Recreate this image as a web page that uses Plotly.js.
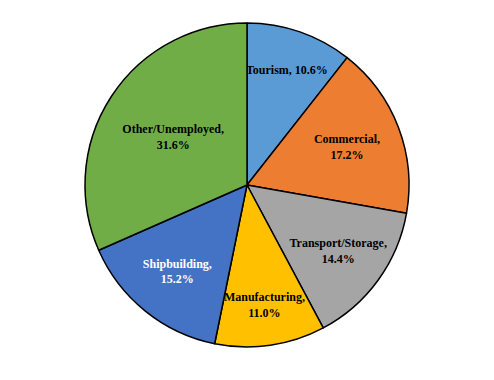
<!DOCTYPE html>
<html><head><meta charset="utf-8">
<script src="https://cdn.plot.ly/plotly-3.0.1.min.js"></script>
<style>html,body{margin:0;padding:0;background:#fff}#chart{width:494px;height:380px}</style>
</head><body><div id="chart"></div>
<script>
const categories = ["Tourism", "Commercial", "Transport/Storage", "Manufacturing", "Shipbuilding", "Other/Unemployed"];
const values = [10.6, 17.2, 14.4, 11.0, 15.2, 31.6];
const colors = ["#5B9BD5", "#ED7D31", "#A5A5A5", "#FFC000", "#4472C4", "#70AD47"];
const textColors = ["#000", "#000", "#000", "#000", "#fff", "#000"];
const labelsText = categories.map((c, i) => i === 0 ? `<b>${c}, ${values[i].toFixed(1)}%</b>` : `<b>${c},<br>${values[i].toFixed(1)}%</b>`);

Plotly.newPlot('chart', [{
  type: 'pie',
  labels: categories,
  values: values,
  text: labelsText,
  textinfo: 'text',
  hoverinfo: 'none',
  textposition: 'inside',
  insidetextorientation: 'horizontal',
  sort: false,
  direction: 'clockwise',
  rotation: 0,
  marker: {colors: colors, line: {color: '#000', width: 1.5}},
  insidetextfont: {family: 'Times New Roman, Liberation Serif, serif', size: 12, color: textColors},
  domain: {x: [85/494, 409/494], y: [33/380, 357/380]}
}], {
  width: 494, height: 380,
  margin: {l: 0, r: 0, t: 0, b: 0},
  showlegend: false,
  uniformtext: {mode: 'show', minsize: 12},
  paper_bgcolor: '#fff'
}, {displayModeBar: false, staticPlot: true});
</script></body></html>
